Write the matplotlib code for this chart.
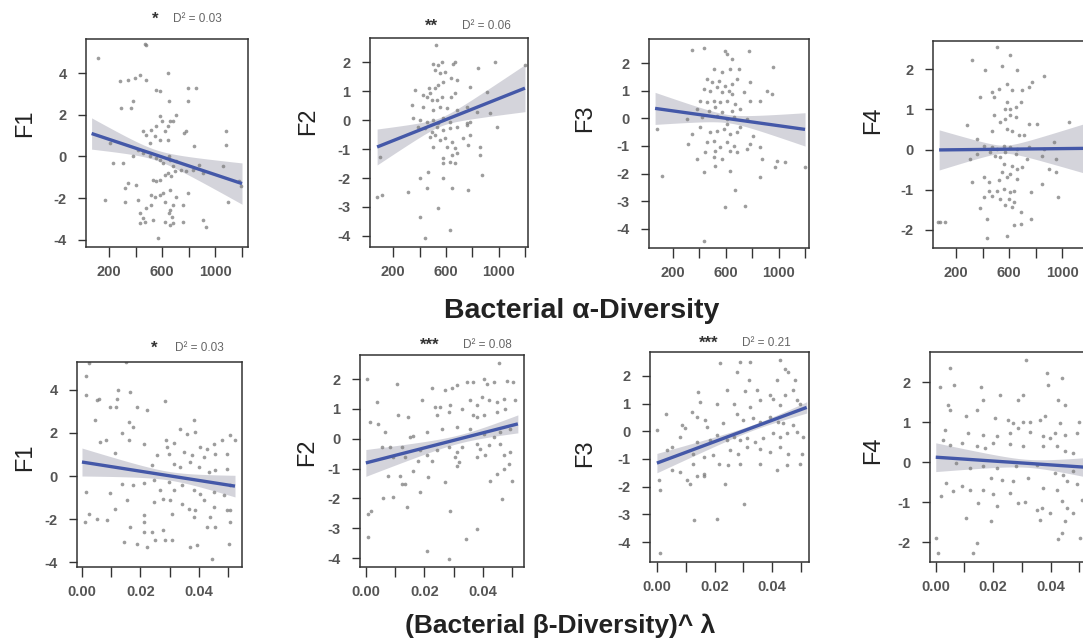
import matplotlib
matplotlib.use("Agg")
import matplotlib.pyplot as plt
import numpy as np

# ---------------- data ----------------
factor_names = ["F1", "F2", "F3", "F4"]
xlabel_alpha = "Bacterial \u03b1-Diversity"
xlabel_beta = "(Bacterial \u03b2-Diversity)^ \u03bb"

alpha_ticks = [200, 400, 600, 800, 1000, 1200]
alpha_ticklabels = ["200", "", "600", "", "1000", ""]
beta_ticks = [0.00, 0.01, 0.02, 0.03, 0.04, 0.05]
beta_ticklabels = ["0.00", "", "0.02", "", "0.04", ""]

yticks_wide = [-4, -2, 0, 2, 4]
yticks_mid = [-4, -3, -2, -1, 0, 1, 2]
yticks_narrow = [-2, -1, 0, 1, 2]

# significance stars and D^2 per panel (row 1: alpha, row 2: beta)
alpha_stars = ["*", "**", "", ""]
alpha_d2 = ["0.03", "0.06", "", ""]
beta_stars = ["*", "***", "***", ""]
beta_d2 = ["0.03", "0.08", "0.21", ""]

# fitted lines: x start/end, y start/end; band: half-width at left, minimum half-width, x of minimum
alpha_fit_x0 = [70, 77, 64, 72]
alpha_fit_x1 = [1200, 1200, 1200, 1200]
alpha_fit_y0 = [1.1, -0.93, 0.36, -0.01]
alpha_fit_y1 = [-1.3, 1.1, -0.4, 0.03]
alpha_band_left = [0.75, 0.62, 0.58, 0.5]
alpha_band_min = [0.25, 0.15, 0.15, 0.1]
alpha_band_xmin = [550, 560, 620, 560]

beta_fit_x0 = [0.0, 0.0, 0.0, 0.0]
beta_fit_x1 = [0.0524, 0.052, 0.052, 0.052]
beta_fit_y0 = [0.65, -0.81, -1.15, 0.12]
beta_fit_y1 = [-0.47, 0.5, 0.86, -0.13]
beta_band_left = [0.65, 0.45, 0.35, 0.36]
beta_band_min = [0.2, 0.14, 0.1, 0.1]
beta_band_xmin = [0.03, 0.032, 0.034, 0.032]

alpha_F1_pts = [(120,4.72),(469,5.4),(480,5.35),(282,3.6),(344,3.68),(394,3.76),(432,3.92),(481,3.68),(643,4.0),(556,3.2),(581,3.12),(792,3.28),(855,3.28),(648,2.64),(792,2.64),(382,2.64),(292,2.32),(369,2.32),(210,0.64),(1081,1.2),(1081,0.56),(457,1.2),(481,1.04),(518,1.28),(556,1.44),(581,1.92),(596,1.68),(618,1.2),(643,1.44),(656,1.68),(681,1.68),(706,2.0),(581,0.8),(544,0.96),(506,0.64),(643,0.8),(767,1.12),(780,1.2),(842,0.48),(307,-0.32),(419,0.32),(457,0.16),(506,0.0),(556,-0.08),(581,-0.16),(606,-0.32),(648,0.0),(656,-0.16),(681,-0.48),(706,-0.24),(743,-0.64),(780,-0.72),(830,-0.64),(880,-0.4),(905,-0.8),(1054,-0.48),(531,-1.12),(556,-1.2),(581,-1.12),(618,-0.88),(643,-0.8),(668,-0.96),(693,-0.72),(319,-1.52),(406,-1.36),(344,-1.28),(518,-1.84),(544,-1.92),(581,-1.84),(606,-1.76),(656,-1.6),(706,-1.92),(792,-1.76),(1091,-2.16),(170,-2.08),(319,-2.16),(419,-2.08),(481,-2.48),(518,-2.32),(618,-2.16),(656,-2.56),(681,-2.32),(755,-2.32),(432,-2.72),(457,-2.96),(648,-2.72),(673,-2.88),(432,-3.2),(469,-3.12),(531,-3.04),(618,-3.12),(656,-3.28),(681,-3.2),(755,-3.12),(905,-3.04),(930,-3.36),(568,-3.92),(1178,-1.2),(1191,-1.44),(382,0.0),(232,-0.32)]

alpha_F2_pts = [(521,2.59),(504,1.95),(541,1.9),(567,2.01),(655,1.95),(668,2.01),(845,1.78),(972,2.01),(1199,1.9),(516,1.72),(554,1.61),(592,1.67),(635,1.44),(686,1.38),(580,1.32),(541,1.21),(516,1.09),(471,1.09),(364,1.03),(428,0.86),(453,0.8),(478,0.92),(491,0.69),(529,0.69),(567,0.8),(635,0.8),(668,0.92),(782,1.15),(908,0.98),(339,0.52),(428,0.46),(504,0.34),(554,0.46),(605,0.4),(680,0.34),(756,0.46),(832,0.29),(934,0.23),(352,0.06),(402,0.0),(453,-0.06),(504,0.0),(541,-0.11),(580,0.06),(630,-0.06),(756,-0.11),(782,-0.06),(390,-0.23),(440,-0.29),(491,-0.4),(529,-0.23),(580,-0.34),(630,-0.29),(680,-0.23),(756,-0.17),(984,-0.23),(478,-0.57),(516,-0.52),(554,-0.69),(592,-0.63),(643,-0.75),(731,-0.63),(782,-0.52),(504,-0.92),(605,-0.92),(668,-0.98),(769,-0.86),(857,-0.92),(643,-1.21),(680,-1.15),(857,-1.21),(580,-1.32),(630,-1.44),(668,-1.49),(580,-1.49),(99,-1.26),(466,-1.78),(402,-2.01),(453,-2.36),(580,-2.01),(643,-2.36),(769,-2.41),(870,-1.9),(314,-2.47),(73,-2.64),(111,-2.59),(402,-3.33),(541,-3.05),(630,-3.79),(440,-4.08)]

alpha_F3_pts = [(344,2.47),(432,2.53),(772,2.45),(596,2.45),(608,2.33),(646,2.14),(961,1.84),(507,1.78),(570,1.66),(696,1.78),(633,1.78),(457,1.42),(495,1.3),(545,1.36),(596,1.18),(646,1.24),(684,1.42),(785,1.3),(432,1.06),(482,1.0),(532,1.12),(570,0.94),(621,1.0),(646,0.88),(734,0.94),(911,1.0),(948,0.88),(407,0.64),(457,0.58),(507,0.64),(558,0.58),(608,0.64),(671,0.52),(785,0.64),(860,0.64),(381,0.34),(469,0.28),(520,0.4),(570,0.22),(646,0.28),(709,0.34),(306,-0.02),(419,0.04),(532,0.1),(608,-0.02),(659,0.04),(759,-0.02),(79,-0.39),(407,-0.33),(344,-0.57),(482,-0.51),(532,-0.45),(583,-0.39),(633,-0.57),(684,-0.51),(807,-0.63),(709,-0.33),(608,-0.2),(316,-0.93),(457,-0.87),(507,-0.81),(558,-1.05),(608,-0.87),(659,-0.99),(785,-0.93),(860,-1.05),(444,-1.23),(520,-1.17),(633,-1.17),(684,-1.23),(759,-1.11),(381,-1.47),(507,-1.41),(570,-1.47),(873,-1.47),(986,-1.53),(1049,-1.59),(974,-1.77),(432,-1.95),(520,-1.71),(633,-1.89),(860,-2.13),(1200,-1.77),(117,-2.07),(671,-2.61),(596,-3.22),(747,-3.16),(432,-4.42)]

alpha_F4_pts = [(508,2.55),(604,2.34),(319,2.22),(546,2.09),(420,1.97),(659,1.97),(861,1.84),(773,1.68),(748,1.55),(697,1.47),(584,1.63),(622,1.47),(470,1.43),(521,1.51),(382,1.3),(483,1.3),(584,1.18),(609,1.01),(647,1.05),(571,1.01),(685,1.18),(281,0.6),(483,0.85),(533,0.68),(571,0.76),(609,0.85),(647,0.8),(748,0.64),(811,0.64),(1051,0.68),(584,0.51),(622,0.47),(672,0.35),(710,0.35),(470,0.47),(357,0.27),(407,0.1),(470,0.06),(508,0.02),(559,0.1),(609,0.06),(659,0.02),(748,0.06),(861,0.02),(937,0.18),(357,-0.11),(458,-0.07),(496,-0.15),(533,-0.19),(571,-0.07),(647,-0.11),(735,-0.23),(849,-0.15),(949,-0.23),(306,-0.23),(559,-0.36),(622,-0.4),(698,-0.44),(546,-0.56),(609,-0.61),(659,-0.48),(899,-0.48),(949,-0.56),(319,-0.81),(407,-0.69),(445,-0.81),(521,-0.77),(584,-0.69),(659,-0.73),(849,-0.85),(445,-1.02),(508,-1.02),(559,-0.98),(609,-1.06),(634,-1.02),(760,-1.06),(470,-1.15),(533,-1.23),(596,-1.23),(963,-1.19),(407,-1.19),(571,-1.39),(622,-1.44),(634,-1.31),(685,-1.56),(382,-1.46),(432,-1.73),(760,-1.73),(685,-1.85),(634,-1.89),(66,-1.81),(80,-1.81),(116,-1.81),(432,-2.21),(584,-2.16)]

beta_F1_pts = [(0.0023,5.26),(0.0152,5.3),(0.0015,4.64),(0.0015,3.78),(0.0051,3.55),(0.006,3.6),(0.0122,3.98),(0.0163,3.91),(0.012,3.6),(0.0097,3.21),(0.0118,3.21),(0.019,3.21),(0.0223,3.05),(0.0283,3.49),(0.0046,2.59),(0.016,2.51),(0.0175,2.28),(0.0382,2.59),(0.0388,2.05),(0.0137,2.0),(0.0337,2.2),(0.0063,1.58),(0.0083,1.66),(0.016,1.66),(0.0213,1.5),(0.0289,1.66),(0.0291,1.35),(0.0314,1.53),(0.036,1.97),(0.0451,1.5),(0.0479,1.66),(0.0508,1.89),(0.0525,1.66),(0.0114,1.07),(0.0257,0.96),(0.0297,1.04),(0.0348,1.12),(0.0377,0.96),(0.0405,1.35),(0.0428,1.27),(0.0457,1.04),(0.0497,1.04),(0.0417,0.88),(0.024,0.5),(0.0314,0.57),(0.0337,0.42),(0.0371,0.65),(0.04,0.42),(0.0434,0.19),(0.0457,0.26),(0.0497,0.34),(0.0015,-0.74),(0.0097,-0.79),(0.0137,-0.36),(0.0175,-0.43),(0.0211,-0.33),(0.0245,-0.2),(0.0268,-0.67),(0.0297,-0.28),(0.0314,-0.67),(0.0342,-0.43),(0.0382,-0.67),(0.0405,-0.82),(0.0451,-0.74),(0.0485,-0.9),(0.0508,-0.43),(0.0154,-1.13),(0.0245,-1.21),(0.0279,-1.05),(0.0303,-1.13),(0.0342,-1.29),(0.0365,-1.52),(0.0388,-1.6),(0.0417,-1.13),(0.0451,-1.44),(0.0497,-1.6),(0.0508,-1.6),(0.0114,-1.52),(0.0023,-1.75),(0.0011,-2.14),(0.0051,-1.98),(0.0086,-2.06),(0.0211,-1.83),(0.0211,-2.14),(0.0308,-1.75),(0.0382,-1.91),(0.044,-1.91),(0.0508,-2.14),(0.0166,-2.37),(0.0211,-2.6),(0.024,-2.6),(0.0279,-2.53),(0.0428,-2.37),(0.0457,-2.37),(0.0143,-3.07),(0.0188,-3.15),(0.0251,-2.99),(0.0285,-2.99),(0.0308,-2.99),(0.0223,-3.3),(0.0371,-3.3),(0.0394,-3.22),(0.0502,-3.15),(0.0445,-3.84)]

beta_F2_pts = [(0.0005,1.99),(0.0105,1.85),(0.0454,2.55),(0.0225,1.69),(0.0271,1.63),(0.0294,1.72),(0.0311,1.8),(0.0346,1.91),(0.0368,1.91),(0.0403,2.02),(0.0414,1.85),(0.0437,1.91),(0.0483,1.94),(0.0503,1.91),(0.0191,1.31),(0.0237,1.07),(0.0254,1.07),(0.0288,1.12),(0.0328,1.01),(0.0357,1.29),(0.038,1.12),(0.0397,1.4),(0.042,1.29),(0.0449,1.24),(0.0471,1.35),(0.0511,1.29),(0.0037,1.24),(0.0111,0.79),(0.0145,0.73),(0.0243,0.79),(0.0283,0.9),(0.0368,0.79),(0.038,0.73),(0.0403,0.79),(0.0449,0.9),(0.0477,1.01),(0.0014,0.56),(0.0042,0.51),(0.0065,0.22),(0.0162,0.11),(0.0151,0.06),(0.0208,0.22),(0.026,0.34),(0.0311,0.39),(0.0357,0.34),(0.0403,0.17),(0.0437,0.06),(0.046,0.22),(0.0494,0.34),(0.0054,-0.26),(0.0082,-0.28),(0.0122,-0.28),(0.0185,-0.39),(0.0208,-0.56),(0.0243,-0.39),(0.0283,-0.28),(0.0311,-0.45),(0.0328,-0.28),(0.038,-0.17),(0.0391,-0.34),(0.042,-0.22),(0.046,-0.17),(0.0494,-0.45),(0.0094,-0.62),(0.0134,-0.62),(0.018,-0.73),(0.0225,-0.73),(0.0305,-0.62),(0.0317,-0.79),(0.038,-0.62),(0.0408,-0.56),(0.0471,-0.56),(0.0489,-0.84),(0.0077,-1.24),(0.0117,-1.24),(0.0162,-1.07),(0.0214,-1.29),(0.0271,-1.46),(0.0311,-0.9),(0.0426,-1.4),(0.0449,-1.18),(0.0471,-1.01),(0.05,-1.4),(0.0122,-1.52),(0.0134,-1.52),(0.0185,-1.8),(0.0059,-1.97),(0.0094,-1.94),(0.0466,-2.02),(0.014,-2.3),(0.0008,-2.53),(0.0019,-2.42),(0.0288,-2.42),(0.038,-3.03),(0.0008,-3.31),(0.0343,-3.37),(0.0208,-3.76),(0.0283,-4.04)]

beta_F3_pts = [(0.0219,2.46),(0.0289,2.5),(0.0323,2.5),(0.0427,2.56),(0.0445,2.26),(0.0456,2.14),(0.0277,2.14),(0.0318,1.84),(0.0416,1.84),(0.0479,1.84),(0.0144,1.42),(0.0242,1.5),(0.0306,1.45),(0.0346,1.48),(0.0393,1.3),(0.0445,1.3),(0.0473,1.48),(0.015,1.06),(0.0208,0.97),(0.0266,1.0),(0.0323,0.88),(0.0358,1.12),(0.0402,1.18),(0.0427,0.94),(0.0485,1.12),(0.0497,1.0),(0.0032,0.64),(0.0121,0.7),(0.0139,0.52),(0.0167,0.4),(0.0173,0.16),(0.0231,0.28),(0.0277,0.64),(0.03,0.4),(0.0335,0.46),(0.0358,0.34),(0.0393,0.52),(0.0421,0.34),(0.0439,0.28),(0.0473,0.22),(0.0087,0.22),(0.0098,0.1),(0.0081,-0.2),(0.0052,-0.56),(0.0,0.04),(0.0139,-0.38),(0.0185,-0.32),(0.0208,-0.14),(0.0242,-0.32),(0.0266,-0.2),(0.0289,-0.32),(0.0312,-0.26),(0.0341,-0.38),(0.037,-0.26),(0.0404,-0.08),(0.0427,-0.2),(0.045,-0.08),(0.0485,-0.02),(0.0508,-0.2),(0.0035,-0.69),(0.0127,-0.81),(0.0162,-0.93),(0.0196,-0.87),(0.0254,-0.69),(0.0283,-0.81),(0.0312,-0.56),(0.0358,-0.63),(0.0393,-0.75),(0.0427,-0.56),(0.0456,-0.81),(0.0502,-0.81),(0.0052,-1.41),(0.0081,-1.47),(0.0127,-1.17),(0.0162,-1.53),(0.0214,-1.17),(0.0248,-1.23),(0.0289,-1.17),(0.0358,-1.17),(0.0416,-1.41),(0.045,-1.23),(0.0497,-1.17),(0.0104,-1.77),(0.0115,-1.89),(0.0139,-1.62),(0.0162,-1.62),(0.0237,-1.89),(0.0012,-2.13),(0.0006,-1.77),(0.0303,-2.61),(0.013,-3.19),(0.0208,-3.15),(0.0012,-4.41)]

beta_F4_pts = [(0.0314,2.56),(0.0049,2.34),(0.0063,1.93),(0.0014,1.87),(0.0159,1.88),(0.0386,2.22),(0.0392,1.93),(0.0438,2.09),(0.0223,1.68),(0.0165,1.55),(0.0287,1.55),(0.0305,1.68),(0.0427,1.55),(0.045,1.43),(0.0041,1.43),(0.0049,1.3),(0.0142,1.3),(0.0107,1.14),(0.0206,1.1),(0.0252,1.05),(0.027,0.97),(0.0305,0.99),(0.0328,1.01),(0.0363,1.05),(0.038,1.14),(0.0433,0.97),(0.0497,1.01),(0.0031,0.8),(0.0113,0.72),(0.0165,0.68),(0.0212,0.64),(0.0258,0.72),(0.0287,0.85),(0.0328,0.76),(0.0374,0.64),(0.0398,0.6),(0.0415,0.72),(0.045,0.68),(0.0491,0.72),(0.0026,0.56),(0.0049,0.43),(0.009,0.47),(0.0142,0.39),(0.0171,0.35),(0.02,0.47),(0.0258,0.46),(0.0305,0.39),(0.0374,0.39),(0.0421,0.39),(0.045,0.27),(0.0479,0.22),(0.0072,-0.02),(0.0119,-0.15),(0.0165,-0.11),(0.0212,-0.15),(0.0281,-0.11),(0.0351,-0.07),(0.0415,-0.27),(0.0444,-0.32),(0.0479,-0.23),(0.0037,-0.52),(0.009,-0.61),(0.0119,-0.69),(0.0165,-0.69),(0.0194,-0.4),(0.0229,-0.44),(0.027,-0.48),(0.0322,-0.4),(0.0374,-0.65),(0.0421,-0.69),(0.0456,-0.48),(0.0491,-0.56),(0.002,-0.85),(0.006,-0.73),(0.0148,-1.02),(0.02,-0.81),(0.0212,-1.1),(0.0258,-0.77),(0.0287,-1.02),(0.031,-1.0),(0.0351,-1.19),(0.0369,-1.15),(0.0398,-1.27),(0.0438,-0.98),(0.0456,-1.15),(0.0479,-1.27),(0.0508,-0.94),(0.0107,-1.39),(0.0194,-1.48),(0.0363,-1.44),(0.045,-1.48),(0.0438,-1.77),(0.0002,-1.89),(0.0142,-2.02),(0.013,-2.27),(0.0008,-2.27),(0.0427,-1.93),(0.0502,-1.89)]

# ---------------- styling / layout ----------------
W, H = 1083, 644
plt.rcParams['font.family'] = ['Liberation Sans', 'DejaVu Sans']

fig = plt.figure(figsize=(W / 100, H / 100), dpi=100)
fig.patch.set_facecolor('white')


def px_rect(l, r, t, b):
    return [l / W, 1 - b / H, (r - l) / W, (b - t) / H]


def fx(px):
    return px / W


def fy(py):
    return 1 - py / H


# pixel boxes (left, right, top, bottom) and limits
alpha_boxes = [(86, 248, 39, 247), (370, 528, 38, 247), (649, 809, 39, 248), (933, 1095, 41, 248)]
beta_boxes = [(77, 242, 362, 567), (360, 524, 355, 567), (650, 809, 352, 562), (930, 1092, 352, 562)]
alpha_xlims = [(28, 1245), (23, 1223), (18, 1230), (26, 1245)]
alpha_ylims = [(-4.34, 5.63), (-4.38, 2.83), (-4.69, 2.87), (-2.45, 2.7)]
beta_xlims = [(-0.0017, 0.0548), (-0.002, 0.0541), (-0.0024, 0.0528), (-0.002, 0.0544)]
beta_ylims = [(-4.23, 5.3), (-4.3, 2.81), (-4.72, 2.86), (-2.5, 2.75)]
ytick_sets = [yticks_wide, yticks_mid, yticks_mid, yticks_narrow]

alpha_ylabel_px = [(25, 123), (308, 121), (585, 118), (873, 120)]
beta_ylabel_px = [(25, 457), (307, 452), (585, 453), (873, 450)]
alpha_annot_px = [(155, 173, 19), (431, 462, 26), None, None]
beta_annot_px = [(154, 175, 348), (430, 463, 345), (709, 742, 343), None]

point_color = '#7c7c7c'
line_color = '#4458a8'
band_color = '#b8b8c4'
axis_color = '#333333'
tick_label_color = '#555555'


def draw_panel(box, xlim, ylim, xticks, xticklabels, yticks, pts,
               x0, x1, y0, y1, hl, h0, xm):
    ax = fig.add_axes(px_rect(*box))
    ax.set_xlim(*xlim)
    ax.set_ylim(*ylim)
    # band + line from fit parameters
    xs = np.linspace(x0, x1, 200)
    ys = y0 + (y1 - y0) * (xs - x0) / (x1 - x0)
    c = (hl ** 2 - h0 ** 2) / (x0 - xm) ** 2
    hw = np.sqrt(h0 ** 2 + c * (xs - xm) ** 2)
    ax.fill_between(xs, ys - hw, ys + hw, color=band_color, alpha=0.6,
                    linewidth=0, zorder=1)
    px = [p[0] for p in pts]
    py = [p[1] for p in pts]
    ax.scatter(px, py, s=7, color=point_color, linewidths=0, alpha=0.75, zorder=2)
    ax.plot(xs, ys, color=line_color, lw=2.4, zorder=3, solid_capstyle='butt')
    ax.set_xticks(xticks)
    ax.set_xticklabels(xticklabels)
    ax.set_yticks(yticks)
    ax.set_yticklabels([f"{v:d}" for v in yticks])
    for sp in ax.spines.values():
        sp.set_color(axis_color)
        sp.set_linewidth(1.1)
    ax.tick_params(axis='x', length=7, width=1.0, color=axis_color, pad=6,
                   labelsize=10.5, labelcolor=tick_label_color)
    ax.tick_params(axis='y', length=6, width=1.0, color=axis_color, pad=8,
                   labelsize=10.5, labelcolor=tick_label_color)
    for lab in ax.get_xticklabels() + ax.get_yticklabels():
        lab.set_fontweight('bold')
    return ax


alpha_pts = [alpha_F1_pts, alpha_F2_pts, alpha_F3_pts, alpha_F4_pts]
beta_pts = [beta_F1_pts, beta_F2_pts, beta_F3_pts, beta_F4_pts]

for i in range(4):
    draw_panel(alpha_boxes[i], alpha_xlims[i], alpha_ylims[i], alpha_ticks,
               alpha_ticklabels, ytick_sets[i], alpha_pts[i],
               alpha_fit_x0[i], alpha_fit_x1[i], alpha_fit_y0[i], alpha_fit_y1[i],
               alpha_band_left[i], alpha_band_min[i], alpha_band_xmin[i])
    draw_panel(beta_boxes[i], beta_xlims[i], beta_ylims[i], beta_ticks,
               beta_ticklabels, ytick_sets[i], beta_pts[i],
               beta_fit_x0[i], beta_fit_x1[i], beta_fit_y0[i], beta_fit_y1[i],
               beta_band_left[i], beta_band_min[i], beta_band_xmin[i])
    # y labels
    for (lx, ly) in (alpha_ylabel_px[i], beta_ylabel_px[i]):
        fig.text(fx(lx), fy(ly), factor_names[i], rotation=90, fontsize=17,
                 color='#222222', ha='center', va='center')
    # annotations
    for ann, stars, d2 in ((alpha_annot_px[i], alpha_stars[i], alpha_d2[i]),
                           (beta_annot_px[i], beta_stars[i], beta_d2[i])):
        if ann is None or not d2:
            continue
        sx, tx, ty = ann
        fig.text(fx(sx), fy(ty), stars, fontsize=12, fontweight='bold',
                 color='#333333', ha='center', va='center')
        fig.text(fx(tx), fy(ty), f"D\u00b2 = {d2}", fontsize=8.5,
                 color='#666666', ha='left', va='center')

fig.text(fx(582), fy(311), xlabel_alpha, fontsize=20.5, fontweight='bold',
         color='#222222', ha='center', va='center')
fig.text(fx(560), fy(626), xlabel_beta, fontsize=19, fontweight='bold',
         color='#222222', ha='center', va='center')

fig.savefig('out.png', dpi=100, facecolor='white')
